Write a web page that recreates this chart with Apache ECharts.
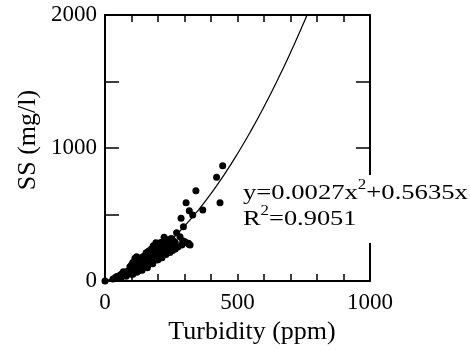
<!DOCTYPE html>
<html>
<head>
<meta charset="utf-8">
<script src="https://cdn.jsdelivr.net/npm/echarts@6/dist/echarts.min.js"></script>
<style>html,body{margin:0;padding:0;background:#fff;}#c{width:470px;height:350px;}</style>
</head>
<body>
<div id="c"></div>
<script>
// Observed samples: [Turbidity (ppm), SS (mg/l)]
var samples = [
  [0,0],[30,15],[38,22],[42,30],[44,32],[45,25],[50,35],[52,28],[55,40],[58,45],[60,38],[60,20],[62,50],
  [65,42],[68,55],[69,70],[70,48],[72,60],[75,52],[78,65],[80,58],[80,35],[82,70],[85,62],[88,75],
  [90,68],[92,80],[94,108],[95,72],[98,90],[100,78],[100,50],[100,120],[102,95],[105,50],[105,85],[105,140],
  [107,83],[108,100],[110,90],[110,130],[112,110],[113,171],[115,95],[115,150],[118,120],[119,183],[120,65],
  [120,80],[120,100],[122,130],[125,110],[125,75],[125,160],[128,140],[130,115],[132,125],[132,133],[135,150],
  [135,175],[138,120],[140,80],[140,95],[140,135],[142,160],[145,130],[145,185],[148,145],[150,170],[150,110],
  [152,140],[155,155],[155,210],[157,213],[158,180],[160,100],[160,120],[160,150],[163,120],[163,165],
  [165,195],[165,225],[168,170],[170,185],[170,140],[172,160],[175,200],[175,240],[176,183],[178,175],
  [180,130],[180,150],[180,210],[182,265],[185,190],[188,220],[190,165],[190,255],[192,200],[192,288],
  [195,158],[195,175],[196,230],[200,215],[200,160],[200,280],[205,250],[210,180],[210,200],[210,235],
  [210,290],[215,175],[216,263],[220,196],[223,329],[225,300],[230,280],[230,200],[230,230],[236,260],
  [240,310],[245,246],[245,215],[250,320],[250,270],[255,230],[258,303],[265,240],[265,290],[270,363],
  [275,255],[283,333],[287,471],[290,270],[293,303],[296,408],[300,290],[302,296],[306,589],[315,283],
  [316,276],[318,529],[321,271],[331,496],[343,679],[369,534],[421,780],[434,589],[444,867]
];
// Fitted curve y = 0.0027x^2 + 0.5635x, values tabulated
var fitX = [0,50,100,150,200,250,300,350,400,450,500,550,600,650,700,750,762.6];
var fitY = [0,34.9,83.4,145.3,220.7,309.6,412.1,528.0,657.4,800.3,956.8,1126.7,1310.1,1507.0,1717.5,1941.4,2000];
var xTickLabels = ['0','500','1000'];
var yTickLabels = ['0','1000','2000'];
var equationLine1 = 'y=0.0027x{s|2}+0.5635x';
var equationLine2 = 'R{s|2}=0.9051';

var fitLine = fitX.map(function(x,i){return [x, fitY[i]];});
var FONT = '"Liberation Serif","Times New Roman",serif';
var chart = echarts.init(document.getElementById('c'));
function axis(extra, tickLen){
  return Object.assign({
    type:'value',
    axisLine:{show:true, onZero:false, lineStyle:{color:'#000', width:2}},
    axisTick:{show:true, inside:true, length:tickLen, lineStyle:{color:'#000', width:1.5}},
    splitLine:{show:false}
  }, extra);
}
var eqRich = {s:{font:'14px '+FONT, fill:'#000', verticalAlign:'top', lineHeight:12}};
chart.setOption({
  animation:false,
  backgroundColor:'#fff',
  grid:{left:105, right:100, top:15, bottom:69},
  xAxis:[
    axis({min:0,max:1000,interval:100,position:'bottom',
      axisLabel:{color:'#000', fontFamily:FONT, fontSize:23, margin:10,
        formatter:function(v){ var s=String(v); return xTickLabels.indexOf(s)>=0 ? s : ''; }}}, 7),
    axis({min:0,max:1000,interval:100,position:'top', axisLabel:{show:false}}, 7)
  ],
  yAxis:[
    axis({min:0,max:2000,interval:500,position:'left',
      axisLabel:{color:'#000', fontFamily:FONT, fontSize:23, margin:8,
        formatter:function(v){ var s=String(v); return yTickLabels.indexOf(s)>=0 ? s : ''; }}}, 14),
    axis({min:0,max:2000,interval:500,position:'right', axisLabel:{show:false}}, 14)
  ],
  series:[
    {type:'line', data:fitLine, smooth:true, showSymbol:false, symbol:'none',
      lineStyle:{color:'#000', width:1.2}, z:3},
    {type:'scatter', data:samples, symbol:'circle', symbolSize:7,
      itemStyle:{color:'#000', opacity:1}, z:4}
  ],
  graphic:[
    {type:'rect', z:99, shape:{x:241, y:175, width:229, height:68}, style:{fill:'#fff'}},
    {type:'text', x:243, y:208, scaleX:1.21, z:100,
      style:{text:equationLine1, font:'22px '+FONT, fill:'#000', lineHeight:30, verticalAlign:'bottom', rich:eqRich}},
    {type:'text', x:243, y:234, scaleX:1.2, z:100,
      style:{text:equationLine2, font:'22px '+FONT, fill:'#000', lineHeight:30, verticalAlign:'bottom', rich:eqRich}},
    {type:'text', x:252, y:332, z:100,
      style:{text:'Turbidity (ppm)', font:'26px '+FONT, fill:'#000', align:'center', verticalAlign:'middle'}},
    {type:'text', x:28, y:140, rotation:Math.PI/2, z:100,
      style:{text:'SS (mg/l)', font:'26px '+FONT, fill:'#000', align:'center', verticalAlign:'middle'}}
  ]
});
</script>
</body>
</html>
